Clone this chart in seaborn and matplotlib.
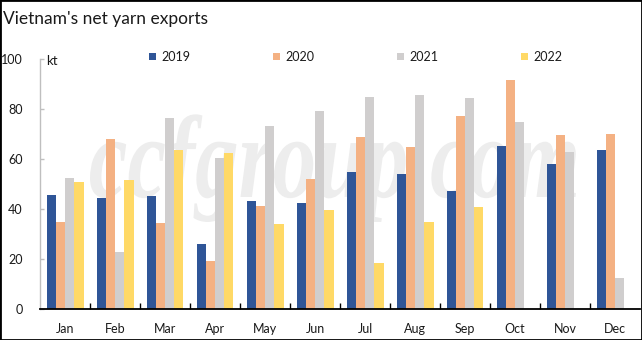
import numpy as np
import pandas as pd
import matplotlib
matplotlib.use("Agg")
import matplotlib.pyplot as plt
from matplotlib.patches import Rectangle, PathPatch
from matplotlib.textpath import TextPath
from matplotlib.font_manager import FontProperties
from matplotlib.transforms import Affine2D
import seaborn as sns

months = ["Jan", "Feb", "Mar", "Apr", "May", "Jun", "Jul", "Aug", "Sep", "Oct", "Nov", "Dec"]
years = ["2019", "2020", "2021", "2022"]
y2019 = [45.7, 44.5, 45.3, 26.1, 43.5, 42.7, 54.9, 54.1, 47.3, 65.3, 58.1, 63.7]
y2020 = [34.9, 68.1, 34.5, 19.3, 41.5, 52.0, 68.9, 64.9, 77.3, 91.7, 69.7, 70.1]
y2021 = [52.7, 22.9, 76.5, 60.5, 73.3, 79.3, 85.0, 85.7, 84.5, 74.9, 62.9, 12.5]
y2022 = [51.0, 51.9, 63.7, 62.5, 34.1, 39.7, 18.5, 34.9, 40.9, None, None, None]
colors = ["#2F5597", "#F4B183", "#D0CECE", "#FFD966"]
yticks = [0, 20, 40, 60, 80, 100]

rows = []
for yr, vals in zip(years, [y2019, y2020, y2021, y2022]):
    for m, v in zip(months, vals):
        if v is not None:
            rows.append({"month": m, "year": yr, "value": v})
df = pd.DataFrame(rows)

sns.set_theme(style="white")
plt.rcParams["font.family"] = ["Lato", "DejaVu Sans"]

W, H = 642, 340
fig = plt.figure(figsize=(W / 100, H / 100), dpi=100)
fig.patch.set_facecolor("white")
ax = fig.add_axes([40 / W, (H - 309.3) / H, 600 / W, 250 / H])

sns.barplot(data=df, x="month", y="value", hue="year", order=months,
            hue_order=years, palette=colors, width=0.74, saturation=1,
            gap=0, linewidth=0, edgecolor="none", ax=ax, zorder=2)

# watermark (scaled text outline, behind the bars)
tp = TextPath((0, 0), "ccfgroup.com", size=1,
              prop=FontProperties(family="Liberation Serif", style="italic",
                                  weight="bold"))
ext = tp.get_extents()
sx = 486 / ext.width
sy = 54 / 0.46
wm_tr = Affine2D().translate(-ext.x0, 0).scale(sx, sy).translate(90, H - 197)
ax.add_patch(PathPatch(tp, transform=wm_tr + fig.dpi_scale_trans.inverted()
                       + fig.dpi_scale_trans, facecolor="#EDEDED",
                       edgecolor="none", zorder=0.5, clip_on=False))

ax.set_xlim(-0.5, 11.5)
ax.set_ylim(0, 100)
ax.set_yticks(yticks)
ax.set_xlabel("")
ax.set_ylabel("")
for s in ["top", "right"]:
    ax.spines[s].set_visible(False)
ax.spines["left"].set_color("#BFBFBF")
ax.spines["left"].set_linewidth(1)
ax.spines["bottom"].set_color("black")
ax.spines["bottom"].set_linewidth(1.3)

ax.tick_params(axis="y", direction="in", length=3, color="#BFBFBF",
               width=1, pad=12.5, labelsize=9, labelcolor="#1a1a1a", left=True)
ax.set_xticks(np.arange(0.5, 11, 1), minor=True)
ax.tick_params(axis="x", which="major", length=0, pad=10, labelsize=9,
               labelcolor="#1a1a1a")
ax.tick_params(axis="x", which="minor", direction="in", length=4,
               color="black", width=1, bottom=True)

# legend
handles, labels = ax.get_legend_handles_labels()
ax.get_legend().remove()
fs = 9
fs_px = fs * 100 / 72


def make_leg(colsp):
    return fig.legend(handles, labels, loc="center left",
                      bbox_to_anchor=(149 / W, 1 - 57 / H), ncol=4,
                      frameon=False, fontsize=fs, borderpad=0,
                      borderaxespad=0, handlelength=7 / fs_px,
                      handleheight=7 / fs_px, handletextpad=5 / fs_px,
                      columnspacing=colsp)


leg = make_leg(6.0)
fig.canvas.draw()
tw = leg.get_texts()[0].get_window_extent().width
leg.remove()
leg = make_leg((124 - 7 - 5 - tw) / fs_px)
for t in leg.get_texts():
    t.set_color("#1a1a1a")

fig.text(46 / W, 1 - 61 / H, "kt", fontsize=9.5, va="center", ha="left",
         color="#1a1a1a")
fig.text(3 / W, 1 - 24 / H, "Vietnam's net yarn exports", fontsize=12.5,
         va="baseline", ha="left", color="#1a1a1a")

fig.add_artist(Rectangle((0, 0), 1, 1, transform=fig.transFigure, fill=False,
                         edgecolor="black", linewidth=2))

fig.savefig("out.png", dpi=100)
